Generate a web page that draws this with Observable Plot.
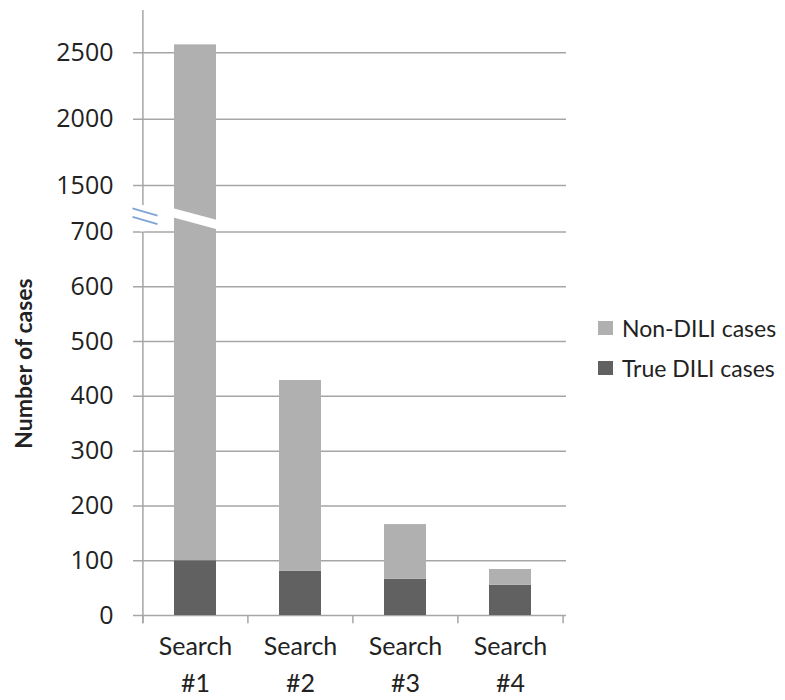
<!DOCTYPE html>
<html>
<head>
<meta charset="utf-8">
<script src="https://cdn.jsdelivr.net/npm/d3@7"></script>
<script src="https://cdn.jsdelivr.net/npm/@observablehq/plot@0.6"></script>
<style>
  body { margin: 0; background: #fff; font-family: Lato, "Open Sans", sans-serif; }
  #wrap { position: relative; width: 785px; height: 700px; }
  #legend { position: absolute; left: 598px; top: 308px; color: #222; font-size: 23px; font-family: Lato, sans-serif; }
  .item { display: flex; align-items: center; height: 40px; }
  .sw { width: 15px; height: 14px; margin-right: 9px; flex: none; }
</style>
</head>
<body>
<div id="wrap"><div id="legend"></div></div>
<script>
// ---- data ----
const categories = ["Search #1", "Search #2", "Search #3", "Search #4"];
const xLabels = ["Search\n#1", "Search\n#2", "Search\n#3", "Search\n#4"];
const trueDili = [100, 81, 66, 55];
const nonDili = [2460, 348, 100, 29];
const seriesNames = ["True DILI cases", "Non-DILI cases"];
const seriesColors = ["#616161", "#b0b0b0"];
const legendOrder = ["Non-DILI cases", "True DILI cases"];
const yTicks = [0, 100, 200, 300, 400, 500, 600, 700, 1500, 2000, 2500];
const yLabel = "Number of cases";

// ---- layout ----
const W = 785, H = 700;
const mL = 142, mR = 219, mT = 10, mB = 85;
const y0 = H - mB;               // pixel of 0
const yDomain = [0, 700, 1500, 2819];
const yRange = [y0, y0 - 383.5, y0 - 430, mT];

const rows = [];
categories.forEach((c, i) => {
  rows.push({cat: c, series: seriesNames[0], value: trueDili[i]});
  rows.push({cat: c, series: seriesNames[1], value: nonDili[i]});
});

const gridColor = "#a6a6a6";
const textColor = "#222";

function breakMark(index, scales) {
  const x = scales.x, y = scales.y;
  const bw = x.bandwidth ? x.bandwidth() : 42;
  const step = x.step ? x.step() : 105.25;
  const xb = x(categories[0]);
  const axisX = xb - (x.paddingOuter ? x.paddingOuter() : 0.3) * step;
  const yLo = y(yDomain[1]), yHi = y(yDomain[2]);
  const g = d3.create("svg:g");
  // white gap in the tall bar
  const cx = xb + bw / 2;
  const cy = yLo + (yHi - yLo) * 0.275;
  const half = bw / 2 + 3, slope = 0.27;
  g.append("line")
    .attr("x1", cx - half).attr("y1", cy - slope * half)
    .attr("x2", cx + half).attr("y2", cy + slope * half)
    .attr("stroke", "white").attr("stroke-width", 9);
  // gap in the y axis line
  g.append("line")
    .attr("x1", axisX).attr("x2", axisX)
    .attr("y1", yLo - 26.5).attr("y2", yLo)
    .attr("stroke", "white").attr("stroke-width", 4);
  // blue break markers
  [19.5, 11].forEach(off => {
    const my = yLo - off;
    g.append("line")
      .attr("x1", axisX - 10).attr("y1", my - 0.29 * 12.5)
      .attr("x2", axisX + 15).attr("y2", my + 0.29 * 12.5)
      .attr("stroke", "#7ea3d6").attr("stroke-width", 1.6);
  });
  return g.node();
}

const chart = Plot.plot({
  width: W,
  height: H,
  marginLeft: mL,
  marginRight: mR,
  marginTop: mT,
  marginBottom: mB,
  style: { fontFamily: "Lato, sans-serif", color: textColor, background: "white" },
  x: { type: "band", domain: categories, range: [mL, 563], paddingInner: 0.6, paddingOuter: 0.3, axis: null },
  y: { type: "linear", domain: yDomain, range: yRange, axis: null },
  color: { domain: seriesNames, range: seriesColors },
  marks: [
    // gridlines (extend left as ticks)
    Plot.ruleY(yTicks, { y: d => d, stroke: gridColor, strokeWidth: 1.5, insetLeft: -9 }),
    // y axis line
    Plot.ruleX([categories[0]], { x: d => d, dx: -52.6, y1: -15, y2: yDomain[3], stroke: gridColor, strokeWidth: 1.5 }),
    // x axis tick marks at band boundaries
    Plot.ruleX(categories, { x: d => d, dx: -52.6, y1: -15, y2: 0, stroke: gridColor, strokeWidth: 1.5 }),
    Plot.ruleX([categories[3]], { x: d => d, dx: 52.6, y1: -15, y2: 0, stroke: gridColor, strokeWidth: 1.5 }),
    // stacked bars
    Plot.barY(rows, Plot.stackY({ x: "cat", y: "value", fill: "series", order: seriesNames })),
    // axis break
    breakMark,
    // y tick labels
    Plot.text(yTicks, { y: d => d, frameAnchor: "left", dx: -29, textAnchor: "end", text: d => String(d), fontSize: 25, fontFamily: "'Open Sans', sans-serif", fill: textColor }),
    // x labels
    Plot.text(categories, { x: d => d, y: 0, text: (d, i) => xLabels[i], lineAnchor: "top", dy: 14, fontSize: 25, lineHeight: 1.46, fill: textColor }),
    // y axis title
    Plot.text([yLabel], { frameAnchor: "left", text: d => d, rotate: -90, textAnchor: "middle", dx: -118, dy: 50.5, fontSize: 23, fontWeight: "bold", fill: textColor })
  ]
});

document.getElementById("wrap").prepend(chart);

const legend = d3.select("#legend");
legendOrder.forEach(name => {
  const item = legend.append("div").attr("class", "item");
  item.append("div").attr("class", "sw").style("background", seriesColors[seriesNames.indexOf(name)]);
  item.append("span").text(name);
});
</script>
</body>
</html>
